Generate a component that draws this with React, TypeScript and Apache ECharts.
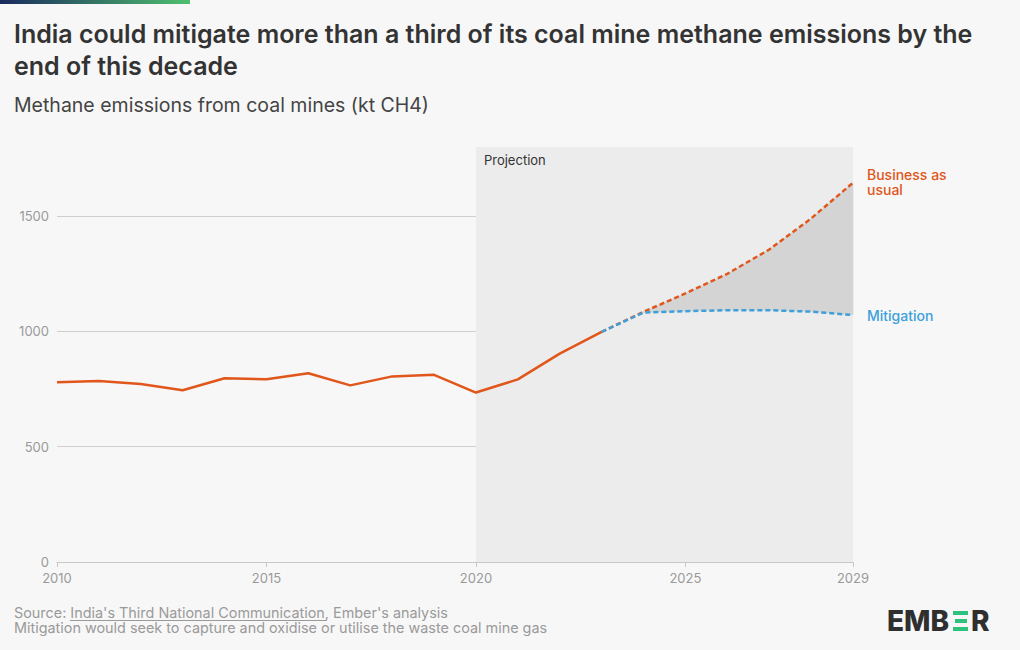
import React, { useEffect, useRef } from "react";
import * as echarts from "echarts";

const histYears = [2010, 2011, 2012, 2013, 2014, 2015, 2016, 2017, 2018, 2019, 2020, 2021, 2022, 2023];
const histValues = [780, 785, 772, 745, 797, 793, 819, 766, 805, 812, 735, 792, 904, 998];
const projYears = [2023, 2024, 2025, 2026, 2027, 2028, 2029];
const bauValues = [998, 1085, 1165, 1250, 1355, 1490, 1645];
const mitValues = [998, 1082, 1088, 1092, 1092, 1086, 1071];
const yTicks = [0, 500, 1000, 1500];
const xTickLabels = [2010, 2015, 2020, 2025, 2029];

const ORANGE = "#E0561B";
const BLUE = "#3DA0DA";
const FONT = "Inter, 'Noto Sans', sans-serif";

export default function App() {
  const ref = useRef<HTMLDivElement>(null);
  useEffect(() => {
    if (!ref.current) return;
    const chart = echarts.init(ref.current, null, { renderer: "svg" });
    const pair = (xs: number[], ys: number[]) => xs.map((x, i) => [x, ys[i]]);
    // band between BAU and mitigation from 2024 on
    const bandRows = projYears.slice(1).map((y, i) => [y, bauValues[i + 1], mitValues[i + 1]]);

    chart.setOption({
      animation: false,
      backgroundColor: "#f7f7f7",
      textStyle: { fontFamily: FONT },
      grid: { left: 57, right: 167, top: 147, bottom: 88 },
      xAxis: {
        type: "value",
        min: 2010,
        max: 2029,
        interval: 5,
        z: 1,
        axisLine: { lineStyle: { color: "#c8c8c8" } },
        axisTick: { show: true, length: 5, lineStyle: { color: "#c8c8c8" } },
        splitLine: { show: false },
        axisLabel: {
          color: "#9a9a9a",
          fontSize: 13,
          fontFamily: FONT,
          margin: 9,
          showMaxLabel: true,
          formatter: (v: number) => (xTickLabels.includes(v) ? String(v) : ""),
        },
      },
      yAxis: {
        type: "value",
        min: 0,
        max: 1800,
        interval: 500,
        z: 1,
        axisLine: { show: false },
        axisTick: { show: false },
        splitLine: { show: true, showMaxLine: false, lineStyle: { color: "#cfcfcf", width: 1 } },
        axisLabel: {
          color: "#9a9a9a",
          fontSize: 13,
          fontFamily: FONT,
          margin: 8,
          showMaxLabel: false,
          formatter: (v: number) => (yTicks.includes(v) ? String(v) : ""),
        },
      },
      series: [
        {
          type: "line",
          z: 0,
          silent: true,
          data: pair(histYears, histValues),
          showSymbol: false,
          lineStyle: { width: 0, opacity: 0 },
          markArea: {
            silent: true,
            itemStyle: { color: "#ececec" },
            label: {
              show: true,
              position: "insideTopLeft",
              distance: 8,
              offset: [0, -2],
              color: "#333",
              fontSize: 13,
              fontFamily: FONT,
            },
            data: [[{ xAxis: 2020, name: "Projection" }, { xAxis: 2029 }]],
          },
        },
        {
          type: "custom",
          z: 2,
          silent: true,
          data: bandRows,
          renderItem: (params: any, api: any) => {
            const i = params.dataIndex;
            if (i >= bandRows.length - 1) return null;
            const a = bandRows[i];
            const b = bandRows[i + 1];
            const pts = [
              api.coord([a[0], a[1]]),
              api.coord([b[0], b[1]]),
              api.coord([b[0], b[2]]),
              api.coord([a[0], a[2]]),
            ];
            return {
              type: "polygon",
              shape: { points: pts },
              style: { fill: "#d4d4d4", stroke: "#d4d4d4", lineWidth: 0.6 },
            };
          },
        },
        {
          type: "line",
          name: "History",
          z: 3,
          data: pair(histYears, histValues),
          showSymbol: false,
          lineStyle: { color: ORANGE, width: 2.5 },
        },
        {
          type: "line",
          name: "Business as usual",
          z: 3,
          data: pair(projYears, bauValues),
          showSymbol: false,
          lineStyle: { color: ORANGE, width: 2.5, type: [5, 3] },
          endLabel: {
            show: true,
            formatter: "Business as\nusual",
            color: ORANGE,
            fontSize: 14,
            fontWeight: 500,
            lineHeight: 15,
            fontFamily: FONT,
            distance: 14,
            offset: [0, -1],
          },
        },
        {
          type: "line",
          name: "Mitigation",
          z: 4,
          data: pair(projYears, mitValues),
          showSymbol: false,
          lineStyle: { color: BLUE, width: 2.5, type: [5, 3] },
          endLabel: {
            show: true,
            formatter: "Mitigation",
            color: BLUE,
            fontSize: 14,
            fontWeight: 500,
            fontFamily: FONT,
            distance: 14,
          },
        },
      ],
      graphic: [
        {
          type: "rect",
          left: 0,
          top: 0,
          shape: { width: 190, height: 4 },
          style: {
            fill: new echarts.graphic.LinearGradient(0, 0, 1, 0, [
              { offset: 0, color: "#1a2a5e" },
              { offset: 1, color: "#4fc06e" },
            ]),
          },
        },
        {
          type: "text",
          left: 14,
          top: 18,
          style: {
            text: "India could mitigate more than a third of its coal mine methane emissions by the\nend of this decade",
            fill: "#333",
            font: `600 25px ${FONT}`,
            lineHeight: 32,
          },
        },
        {
          type: "text",
          left: 14,
          top: 95,
          style: { text: "Methane emissions from coal mines (kt CH4)", fill: "#444", font: `400 19.5px ${FONT}` },
        },
        {
          type: "text",
          left: 14,
          top: 605,
          style: {
            text: "Source: India's Third National Communication, Ember's analysis",
            fill: "#9a9a9a",
            font: `400 14.4px ${FONT}`,
          },
        },
        {
          type: "line",
          shape: { x1: 70, y1: 620.5, x2: 326, y2: 620.5 },
          style: { stroke: "#9a9a9a", lineWidth: 1 },
        },
        {
          type: "text",
          left: 14,
          top: 620,
          style: {
            text: "Mitigation would seek to capture and oxidise or utilise the waste coal mine gas",
            fill: "#9a9a9a",
            font: `400 14.4px ${FONT}`,
          },
        },
        {
          type: "text",
          left: 887,
          top: 607,
          style: { text: "EMB", fill: "#2f2f2f", font: `800 28px ${FONT}` },
        },
        {
          type: "text",
          left: 971,
          top: 607,
          style: { text: "R", fill: "#2f2f2f", font: `800 28px ${FONT}` },
        },
        { type: "rect", left: 953, top: 611, shape: { width: 15, height: 4 }, style: { fill: "#2ec27e" } },
        { type: "rect", left: 955, top: 619, shape: { width: 12, height: 4 }, style: { fill: "#2ec27e" } },
        { type: "rect", left: 953, top: 627, shape: { width: 15, height: 4 }, style: { fill: "#2ec27e" } },
      ],
    });
    return () => chart.dispose();
  }, []);
  return <div ref={ref} style={{ width: 1020, height: 650, position: "absolute", left: 0, top: 0 }} />;
}
